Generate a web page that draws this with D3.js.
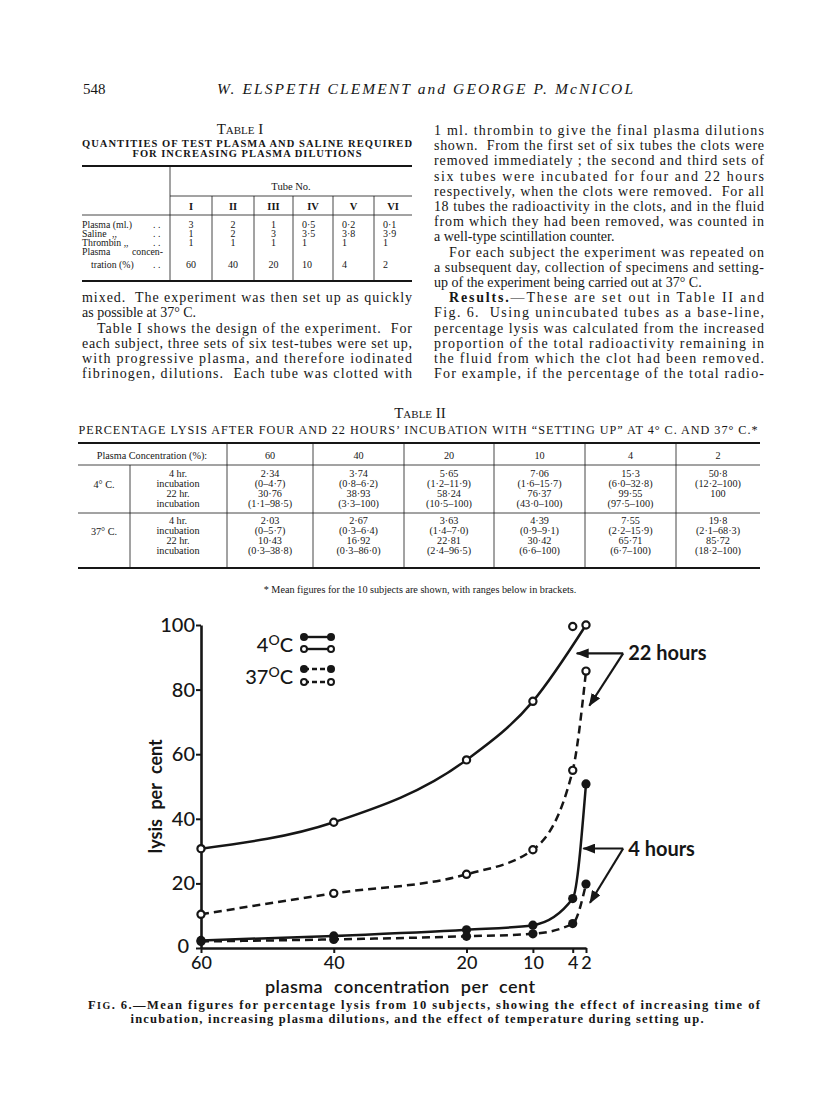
<!DOCTYPE html>
<html>
<head>
<meta charset="utf-8">
<script src="https://cdn.jsdelivr.net/npm/d3@7"></script>
<style>
  body { margin: 0; background: #fff; }
  svg { display: block; }
  text { white-space: pre; }
</style>
</head>
<body>
<svg id="page" width="816" height="1112"></svg>
<script>
// Fig. 6 data: mean percentage lysis by plasma concentration
const concentrations = [60, 40, 20, 10, 4, 2];
const lysis4C4h = [2.34, 3.74, 5.65, 7.06, 15.3, 50.8];
const lysis4C22h = [30.76, 38.93, 58.24, 76.37, 99.55, 100];
const lysis37C4h = [2.03, 2.67, 3.63, 4.39, 7.55, 19.8];
const lysis37C22h = [10.43, 16.92, 22.81, 30.42, 55, 85.72];
const yTicks = [0, 20, 40, 60, 80, 100];

// Table I
const tubeNumbers = ['I', 'II', 'III', 'IV', 'V', 'VI'];
const plasmaMl = ['3', '2', '1', '0·5', '0·2', '0·1'];
const salineMl = ['1', '2', '3', '3·5', '3·8', '3·9'];
const thrombinMl = ['1', '1', '1', '1', '1', '1'];
const plasmaConc = ['60', '40', '20', '10', '4', '2'];

// Table II
const t2Mean4C4h = ['2·34', '3·74', '5·65', '7·06', '15·3', '50·8'];
const t2Range4C4h = ['(0–4·7)', '(0·8–6·2)', '(1·2–11·9)', '(1·6–15·7)', '(6·0–32·8)', '(12·2–100)'];
const t2Mean4C22h = ['30·76', '38·93', '58·24', '76·37', '99·55', '100'];
const t2Range4C22h = ['(1·1–98·5)', '(3·3–100)', '(10·5–100)', '(43·0–100)', '(97·5–100)', ''];
const t2Mean37C4h = ['2·03', '2·67', '3·63', '4·39', '7·55', '19·8'];
const t2Range37C4h = ['(0–5·7)', '(0·3–6·4)', '(1·4–7·0)', '(0·9–9·1)', '(2·2–15·9)', '(2·1–68·3)'];
const t2Mean37C22h = ['10·43', '16·92', '22·81', '30·42', '65·71', '85·72'];
const t2Range37C22h = ['(0·3–38·8)', '(0·3–86·0)', '(2·4–96·5)', '(6·6–100)', '(6·7–100)', '(18·2–100)'];

// Body text, one entry per printed line (j = justified)
const leftColLines = [
  { t: 'mixed.  The experiment was then set up as quickly', j: true },
  { t: 'as possible at 37° C.' },
  { t: 'Table I shows the design of the experiment.  For', j: true, indent: true },
  { t: 'each subject, three sets of six test-tubes were set up,', j: true },
  { t: 'with progressive plasma, and therefore iodinated', j: true },
  { t: 'fibrinogen, dilutions.  Each tube was clotted with', j: true },
];
const rightColLines = [
  { t: '1 ml. thrombin to give the final plasma dilutions', j: true },
  { t: 'shown.  From the first set of six tubes the clots were', j: true },
  { t: 'removed immediately ; the second and third sets of', j: true },
  { t: 'six tubes were incubated for four and 22 hours', j: true },
  { t: 'respectively, when the clots were removed.  For all', j: true },
  { t: '18 tubes the radioactivity in the clots, and in the fluid', j: true },
  { t: 'from which they had been removed, was counted in', j: true },
  { t: 'a well-type scintillation counter.' },
  { t: 'For each subject the experiment was repeated on', j: true, indent: true },
  { t: 'a subsequent day, collection of specimens and setting-', j: true },
  { t: 'up of the experiment being carried out at 37° C.' },
  { t: [['Results.', true], ['—These are set out in Table II and', false]], j: true, indent: true },
  { t: 'Fig. 6.  Using unincubated tubes as a base-line,', j: true },
  { t: 'percentage lysis was calculated from the increased', j: true },
  { t: 'proportion of the total radioactivity remaining in', j: true },
  { t: 'the fluid from which the clot had been removed.', j: true },
  { t: 'For example, if the percentage of the total radio-', j: true },
];

const serif = "'Liberation Serif', 'DejaVu Serif', serif";
const sans = "Lato, 'DejaVu Sans', sans-serif";
const ink = '#161616';

const svg = d3.select('#page');
svg.append('rect').attr('width', 816).attr('height', 1112).attr('fill', '#fff');

const page = svg.append('g')
  .attr('font-family', serif)
  .attr('fill', ink);

function hRule(x1, x2, y, w) {
  page.append('line')
    .attr('x1', x1).attr('x2', x2).attr('y1', y).attr('y2', y)
    .attr('stroke', ink).attr('stroke-width', w);
}
function vRule(x, y1, y2, w) {
  page.append('line')
    .attr('x1', x).attr('x2', x).attr('y1', y1).attr('y2', y2)
    .attr('stroke', ink).attr('stroke-width', w || 0.8);
}
function label(x, y, str, size, anchor) {
  return page.append('text')
    .attr('x', x).attr('y', y)
    .attr('font-size', size)
    .attr('text-anchor', anchor || 'start')
    .text(str);
}

// Running head
label(83, 94, '548', 15);
label(217, 94, 'W. ELSPETH CLEMENT and GEORGE P. McNICOL', 15.5)
  .attr('font-style', 'italic')
  .attr('textLength', 416)
  .attr('lengthAdjust', 'spacing');

// Body text columns
function drawLines(lines, x0, width, y0, step) {
  const indent = 15;
  lines.forEach((ln, i) => {
    const x = x0 + (ln.indent ? indent : 0);
    const w = width - (ln.indent ? indent : 0);
    const t = page.append('text')
      .attr('x', x)
      .attr('y', y0 + i * step)
      .attr('font-size', 14);
    const segs = Array.isArray(ln.t) ? ln.t : [[ln.t, false]];
    segs.forEach(([s, b]) => {
      t.append('tspan').attr('font-weight', b ? 700 : null).text(s);
    });
    if (ln.j) t.attr('textLength', w).attr('lengthAdjust', 'spacing');
  });
}
const lineStep = 15.2;
drawLines(rightColLines, 434, 330, 135, lineStep);
drawLines(leftColLines, 82, 330, 135 + 11 * lineStep, lineStep);

// ---------- Table I ----------
label(240, 134, 'Table I', 15, 'middle').attr('font-variant', 'small-caps');
label(247, 147, 'QUANTITIES OF TEST PLASMA AND SALINE REQUIRED', 10.5, 'middle')
  .attr('font-weight', 700).attr('textLength', 330).attr('lengthAdjust', 'spacing');
label(247, 157, 'FOR INCREASING PLASMA DILUTIONS', 10.5, 'middle')
  .attr('font-weight', 700).attr('textLength', 229).attr('lengthAdjust', 'spacing');

const t1Edges = [170, 212, 254, 293, 333, 374, 412];
const t1Top = 166;
hRule(82, 412, t1Top, 1.8);
vRule(t1Edges[0], t1Top, 281);
label(291, 190, 'Tube No.', 10.5, 'middle');
hRule(170, 412, 196, 0.8);
t1Edges.slice(1, -1).forEach((xe) => vRule(xe, 196, 281));
hRule(82, 412, 215, 0.8);
hRule(82, 412, 281, 1.8);

tubeNumbers.forEach((n, i) => {
  label((t1Edges[i] + t1Edges[i + 1]) / 2, 210, n, 10.5, 'middle').attr('font-weight', 700);
});
const t1Rows = [
  { y: 228, cells: plasmaMl },
  { y: 237, cells: salineMl },
  { y: 246, cells: thrombinMl },
  { y: 268, cells: plasmaConc },
];
t1Rows.forEach((row) => {
  row.cells.forEach((v, i) => {
    if (i < 3) {
      label((t1Edges[i] + t1Edges[i + 1]) / 2, row.y, v, 10, 'middle');
    } else {
      label(t1Edges[i] + 9, row.y, v, 10);
    }
  });
});
label(82, 228, 'Plasma (ml.)', 9.8);
label(82, 237, 'Saline', 9.8);
label(112, 237, ',,', 9.8);
label(82, 246, 'Thrombin ,,', 9.8);
label(82, 255, 'Plasma', 9.8);
label(163, 255, 'concen-', 9.8, 'end');
label(91, 268, 'tration (%)', 9.8);
[228, 237, 246, 268].forEach((yy) => label(153, yy, '. .', 9.8));

// ---------- Table II ----------
label(420, 418, 'Table II', 15, 'middle').attr('font-variant', 'small-caps');
label(418, 434, 'PERCENTAGE LYSIS AFTER FOUR AND 22 HOURS\u2019 INCUBATION WITH \u201CSETTING UP\u201D AT 4° C. AND 37° C.*', 12.2, 'middle')
  .attr('textLength', 679).attr('lengthAdjust', 'spacing');

const t2Edges = [227, 313, 404, 494, 585, 676, 760];
hRule(78, 760, 443, 1.8);
hRule(78, 760, 465, 0.8);
hRule(78, 760, 513, 0.8);
hRule(78, 760, 568, 1.8);
t2Edges.slice(0, -1).forEach((xe) => vRule(xe, 443, 568));
vRule(130, 465, 568);

label(152, 459, 'Plasma Concentration (%):', 10.2, 'middle');
plasmaConc.forEach((c, i) => {
  label((t2Edges[i] + t2Edges[i + 1]) / 2, 459, c, 10.2, 'middle');
});

const t2Groups = [
  { name: '4° C.', y0: 477, cols: [t2Mean4C4h, t2Range4C4h, t2Mean4C22h, t2Range4C22h] },
  { name: '37° C.', y0: 524, cols: [t2Mean37C4h, t2Range37C4h, t2Mean37C22h, t2Range37C22h] },
];
const t2RowLabels = ['4 hr.', 'incubation', '22 hr.', 'incubation'];
const t2Step = 9.9;
t2Groups.forEach((g) => {
  label(104, g.y0 + t2Step * 1.1, g.name, 10.2, 'middle');
  t2RowLabels.forEach((s, k) => label(178, g.y0 + k * t2Step, s, 10.2, 'middle'));
  g.cols.forEach((arr, k) => {
    arr.forEach((v, i) => {
      label((t2Edges[i] + t2Edges[i + 1]) / 2, g.y0 + k * t2Step, v, 10.2, 'middle');
    });
  });
});
label(420, 593, '* Mean figures for the 10 subjects are shown, with ranges below in brackets.', 10.2, 'middle');

// ---------- Fig. 6 ----------
const fig = svg.append('g')
  .attr('font-family', sans)
  .attr('font-weight', 700)
  .attr('fill', ink);

const x = d3.scaleLinear().domain([60, 2]).range([201, 586]);
const y = d3.scaleLinear().domain([0, 100]).range([948, 625]);

const yAxis = fig.append('g')
  .attr('transform', `translate(${x(60)},0)`)
  .call(d3.axisLeft(y).tickValues(yTicks).tickSize(5).tickSizeOuter(0).tickPadding(1));
const xAxis = fig.append('g')
  .attr('transform', `translate(0,${y(0)})`)
  .call(d3.axisBottom(x).tickValues(concentrations).tickSize(5).tickSizeOuter(0).tickPadding(3)
    .tickFormat((d) => String(d)));

[yAxis, xAxis].forEach((ax) => {
  ax.attr('font-family', null);
  ax.select('.domain').attr('stroke', ink).attr('stroke-width', 2.6);
  ax.selectAll('.tick line').attr('stroke', ink).attr('stroke-width', 2);
  ax.selectAll('.tick text').attr('fill', ink).attr('font-weight', 500);
});
yAxis.attr('font-size', 20);
xAxis.attr('font-size', 18);
// The zero label sits a little left and up, clear of the "60" below it
yAxis.selectAll('.tick text').filter((d) => d === 0)
  .attr('dx', -6).attr('dy', '0.2em');

fig.append('text')
  .attr('transform', `translate(162,${y(47)}) rotate(-90)`)
  .attr('text-anchor', 'middle')
  .attr('font-size', 18)
  .attr('word-spacing', 5)
  .text('lysis per cent');

fig.append('text')
  .attr('x', 400).attr('y', 993)
  .attr('text-anchor', 'middle')
  .attr('font-size', 18)
  .attr('font-weight', 600)
  .attr('word-spacing', 6)
  .attr('textLength', 270)
  .attr('lengthAdjust', 'spacing')
  .text('plasma concentration per cent');

const series = [
  { values: lysis4C22h, dashed: false, open: true, lineSkip: [4] },
  { values: lysis37C22h, dashed: true, open: true, lineSkip: [] },
  { values: lysis4C4h, dashed: false, open: false, lineSkip: [] },
  { values: lysis37C4h, dashed: true, open: false, lineSkip: [] },
];

const line = d3.line()
  .x((d) => x(d.c))
  .y((d) => y(d.v))
  .curve(d3.curveMonotoneX);

series.forEach((s) => {
  const pts = concentrations.map((c, i) => ({ c, v: s.values[i], i }));
  fig.append('path')
    .datum(pts.filter((p) => !s.lineSkip.includes(p.i)))
    .attr('d', line)
    .attr('fill', 'none')
    .attr('stroke', ink)
    .attr('stroke-width', 2.5)
    .attr('stroke-dasharray', s.dashed ? '8,5' : null);
});
series.forEach((s) => {
  fig.append('g').selectAll('circle')
    .data(concentrations.map((c, i) => ({ c, v: s.values[i] })))
    .join('circle')
    .attr('cx', (d) => x(d.c))
    .attr('cy', (d) => y(d.v))
    .attr('r', s.open ? 3.6 : 4.6)
    .attr('fill', s.open ? '#fff' : ink)
    .attr('stroke', ink)
    .attr('stroke-width', s.open ? 2.2 : 0);
});

// Legend
const legendRows = [
  { dashed: false, open: false, y: 637 },
  { dashed: false, open: true, y: 649 },
  { dashed: true, open: false, y: 669 },
  { dashed: true, open: true, y: 682 },
];
legendRows.forEach((r) => {
  fig.append('line')
    .attr('x1', 304).attr('x2', 331).attr('y1', r.y).attr('y2', r.y)
    .attr('stroke', ink).attr('stroke-width', 2.4)
    .attr('stroke-dasharray', r.dashed ? '5,3' : null);
  [304, 331].forEach((cx) => {
    fig.append('circle')
      .attr('cx', cx).attr('cy', r.y)
      .attr('r', r.open ? 3 : 4)
      .attr('fill', r.open ? '#fff' : ink)
      .attr('stroke', ink)
      .attr('stroke-width', r.open ? 2 : 0);
  });
});
function tempLabel(str, yy) {
  const t = fig.append('text')
    .attr('x', 293).attr('y', yy)
    .attr('text-anchor', 'end')
    .attr('font-size', 20)
    .attr('font-weight', 500);
  t.append('tspan').text(str);
  t.append('tspan').attr('font-size', 14).attr('dy', -7).text('O');
  t.append('tspan').attr('dy', 7).text('C');
}
tempLabel('4', 652);
tempLabel('37', 684);

// Arrow annotations (anchor and tips in data units)
svg.append('defs').append('marker')
  .attr('id', 'head')
  .attr('markerUnits', 'userSpaceOnUse')
  .attr('markerWidth', 13).attr('markerHeight', 10)
  .attr('refX', 12).attr('refY', 5)
  .attr('orient', 'auto')
  .append('path')
  .attr('d', 'M0,0 L13,5 L0,10 Z')
  .attr('fill', ink);

const annotations = [
  { text: '22 hours', at: [-3.6, 91.2], tips: [[3.4, 91.2], [1.5, 75]] },
  { text: '4 hours', at: [-3.6, 30.8], tips: [[2.4, 30.8], [1.4, 14]] },
];
annotations.forEach((a) => {
  a.tips.forEach((tp) => {
    fig.append('line')
      .attr('x1', x(a.at[0])).attr('y1', y(a.at[1]))
      .attr('x2', x(tp[0])).attr('y2', y(tp[1]))
      .attr('stroke', ink).attr('stroke-width', 2.2)
      .attr('marker-end', 'url(#head)');
  });
  fig.append('text')
    .attr('x', x(a.at[0]) + 5).attr('y', y(a.at[1]) + 7)
    .attr('font-size', 20)
    .text(a.text);
});

// Caption
const cap = page.append('text')
  .attr('x', 88).attr('y', 1009)
  .attr('font-size', 12.5)
  .attr('font-weight', 700)
  .attr('textLength', 672).attr('lengthAdjust', 'spacing');
cap.append('tspan').text('F');
cap.append('tspan').attr('font-size', 10).text('IG');
cap.append('tspan').text('. 6.—Mean figures for percentage lysis from 10 subjects, showing the effect of increasing time of');
label(417, 1023, 'incubation, increasing plasma dilutions, and the effect of temperature during setting up.', 12.5, 'middle')
  .attr('font-weight', 700)
  .attr('textLength', 573).attr('lengthAdjust', 'spacing');
</script>
</body>
</html>
